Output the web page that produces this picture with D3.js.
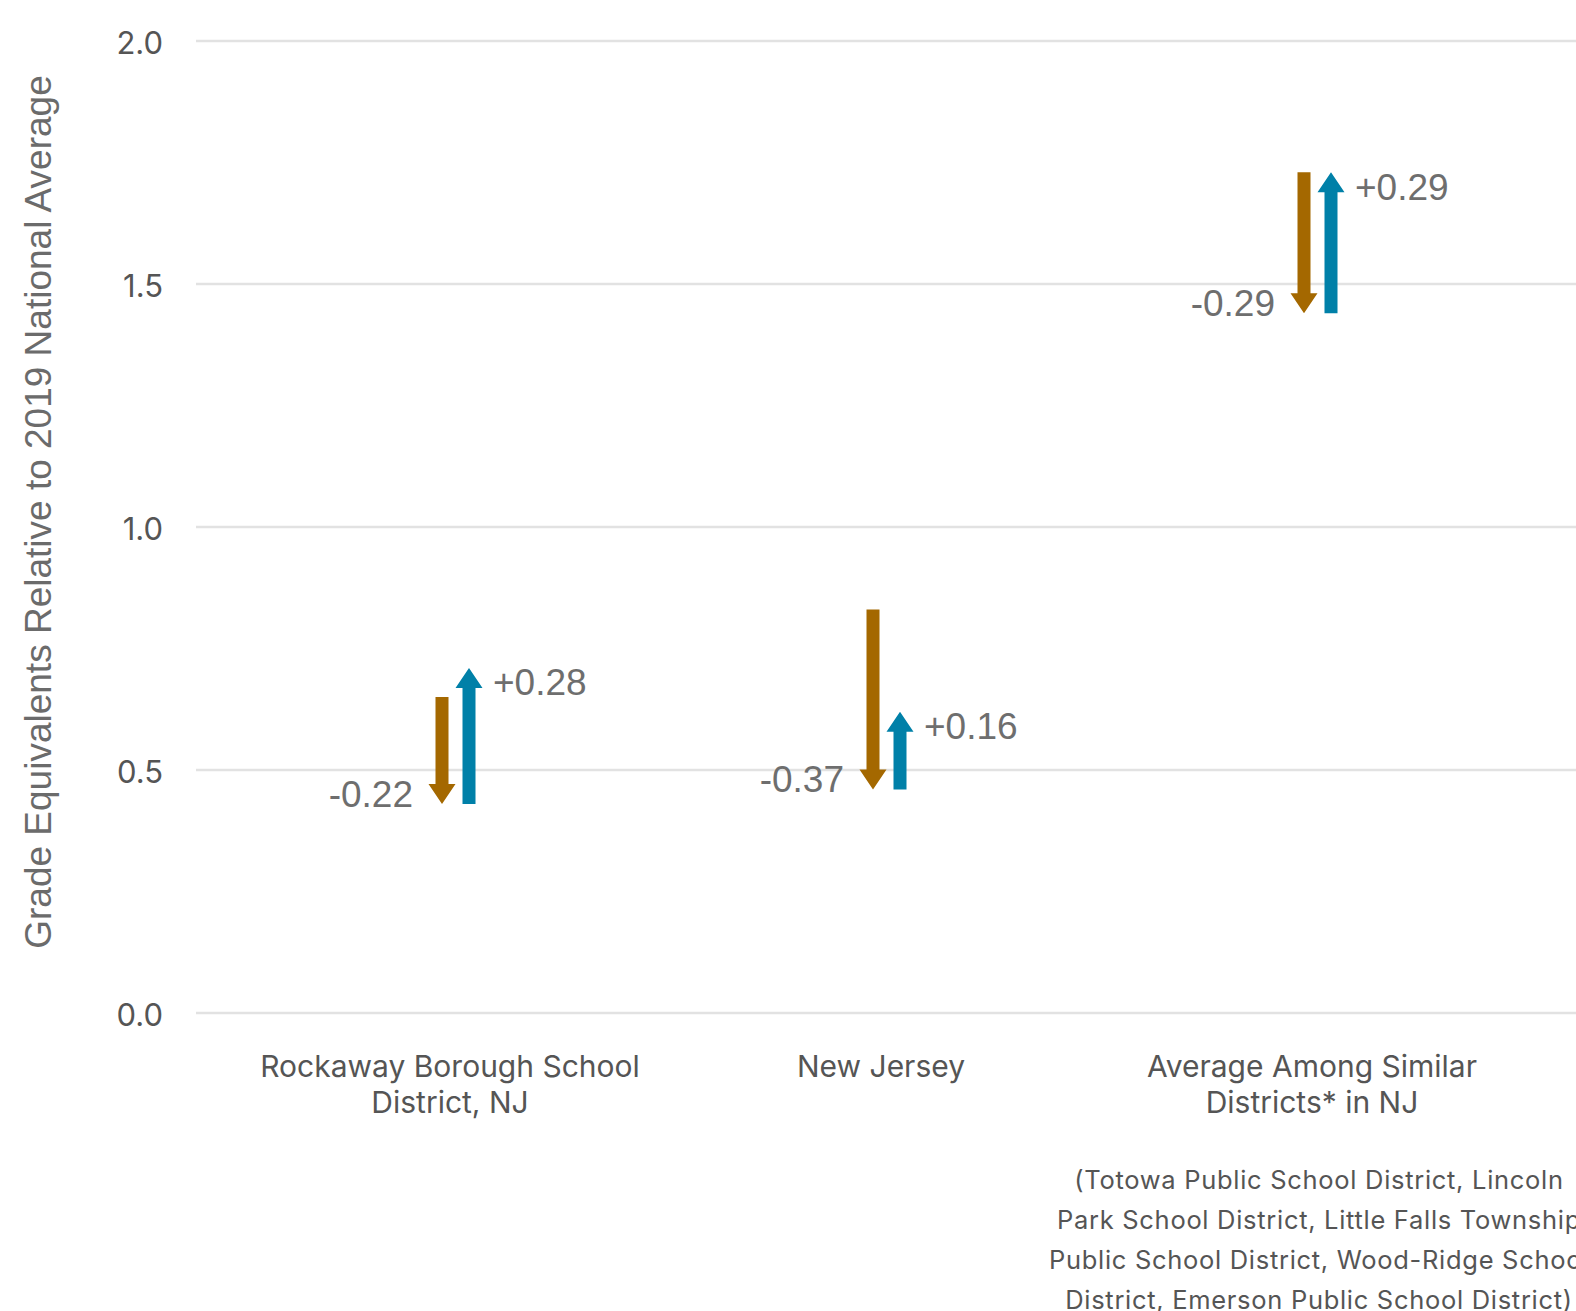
<!DOCTYPE html>
<html>
<head>
<meta charset="utf-8">
<script src="https://cdn.jsdelivr.net/npm/d3@7"></script>
<style>
  html, body { margin: 0; padding: 0; background: #fff; overflow: hidden; }
  svg { display: block; }
</style>
</head>
<body>
<div id="chart"></div>
<script>
// ---- data ----
const categories = [
  "Rockaway Borough School District, NJ",
  "New Jersey",
  "Average Among Similar Districts* in NJ"
];
const categoryLines = [
  ["Rockaway Borough School", "District, NJ"],
  ["New Jersey"],
  ["Average Among Similar", "Districts* in NJ"]
];
const startValues = [0.65, 0.83, 1.73];   // level before the drop
const dropValues  = [-0.22, -0.37, -0.29]; // change down (orange)
const gainValues  = [0.28, 0.16, 0.29];    // change up (blue)
const yTicks = [0.0, 0.5, 1.0, 1.5, 2.0];
const yTitle = "Grade Equivalents Relative to 2019 National Average";
const noteLines = [
  "(Totowa Public School District, Lincoln",
  "Park School District, Little Falls Township",
  "Public School District, Wood-Ridge School",
  "District, Emerson Public School District)"
];

// ---- layout ----
const W = 1576, H = 1311;
const svg = d3.select("#chart").append("svg").attr("width", W).attr("height", H);

const y = d3.scaleLinear().domain([0, 2]).range([1013, 41]);
const x = d3.scalePoint().domain(categories).range([451, 1313]);

const orange = "#a46800", blue = "#0080a8";
const shaftW = 13, headW = 27, headL = 20;
const orangeOff = -9, blueOff = 18;

// gridlines
svg.append("g").selectAll("line").data(yTicks).join("line")
  .attr("x1", 196).attr("x2", W)
  .attr("y1", d => y(d)).attr("y2", d => y(d))
  .attr("stroke", "#e2e2e2").attr("stroke-width", 2.5);

// y tick labels
svg.append("g").selectAll("text").data(yTicks).join("text")
  .attr("x", 163).attr("y", d => y(d) + 1)
  .attr("text-anchor", "end").attr("dominant-baseline", "central")
  .attr("font-family", "Inter, 'Noto Sans', sans-serif").attr("font-size", 31)
  .attr("fill", "#555")
  .text(d => d.toFixed(1));

// y title
svg.append("text")
  .attr("transform", "translate(38,512) rotate(-90)")
  .attr("text-anchor", "middle").attr("dominant-baseline", "central")
  .attr("font-family", "'Liberation Sans', Arial, sans-serif").attr("font-size", 37)
  .attr("fill", "#6b6b6b")
  .text(yTitle);

function arrowPath(cx, yFrom, yTo) {
  const dir = yTo > yFrom ? 1 : -1;
  const base = yTo - dir * headL;
  const p = d3.path();
  p.moveTo(cx - shaftW / 2, yFrom);
  p.lineTo(cx - shaftW / 2, base);
  p.lineTo(cx - headW / 2, base);
  p.lineTo(cx, yTo);
  p.lineTo(cx + headW / 2, base);
  p.lineTo(cx + shaftW / 2, base);
  p.lineTo(cx + shaftW / 2, yFrom);
  p.closePath();
  return p.toString();
}

const rows = categories.map((c, i) => {
  const s = startValues[i];
  const m = s + dropValues[i];
  const e = m + gainValues[i];
  return { c, i, s, m, e, drop: dropValues[i], gain: gainValues[i] };
});

const g = svg.append("g");
g.selectAll("path.down").data(rows).join("path").attr("class", "down")
  .attr("d", d => arrowPath(x(d.c) + orangeOff, y(d.s), y(d.m)))
  .attr("fill", orange);
g.selectAll("path.up").data(rows).join("path").attr("class", "up")
  .attr("d", d => arrowPath(x(d.c) + blueOff, y(d.m), y(d.e)))
  .attr("fill", blue);

// value labels
g.selectAll("text.drop").data(rows).join("text").attr("class", "drop")
  .attr("x", d => x(d.c) + orangeOff - 29)
  .attr("y", d => y(d.m) - 10)
  .attr("text-anchor", "end").attr("dominant-baseline", "central")
  .attr("font-family", "'Liberation Sans', Arial, sans-serif").attr("font-size", 37)
  .attr("fill", "#6e6e6e")
  .text(d => d.drop.toFixed(2));
g.selectAll("text.gain").data(rows).join("text").attr("class", "gain")
  .attr("x", d => x(d.c) + blueOff + 24)
  .attr("y", d => y(d.e) + 15)
  .attr("text-anchor", "start").attr("dominant-baseline", "central")
  .attr("font-family", "'Liberation Sans', Arial, sans-serif").attr("font-size", 37)
  .attr("fill", "#6e6e6e")
  .text(d => "+" + d.gain.toFixed(2));

// category labels
const cl = svg.append("g").selectAll("text").data(categories).join("text")
  .attr("text-anchor", "middle")
  .attr("font-family", "Inter, 'Noto Sans', sans-serif").attr("font-size", 30)
  .attr("fill", "#555");
cl.each(function(c, i) {
  d3.select(this).selectAll("tspan").data(categoryLines[i]).join("tspan")
    .attr("x", x(c) - 1)
    .attr("y", (d, k) => 1066 + k * 36)
    .attr("dominant-baseline", "central")
    .text(d => d);
});

// note under third category
svg.append("g").selectAll("text").data(noteLines).join("text")
  .attr("x", x(categories[2]) + 6)
  .attr("y", (d, k) => 1179 + k * 40)
  .attr("text-anchor", "middle").attr("dominant-baseline", "central")
  .attr("font-family", "Inter, 'Noto Sans', sans-serif").attr("font-size", 25.5)
  .attr("letter-spacing", 0.7)
  .attr("fill", "#555")
  .text(d => d);
</script>
</body>
</html>
